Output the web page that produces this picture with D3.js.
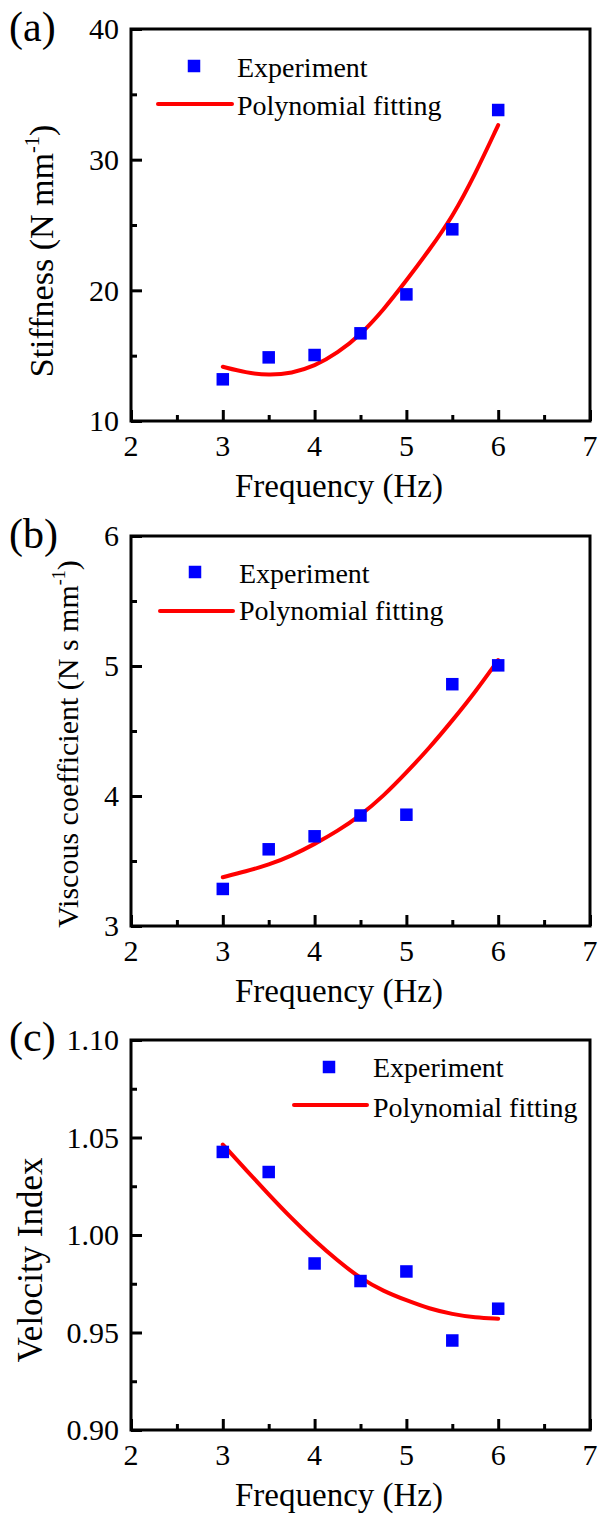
<!DOCTYPE html>
<html>
<head>
<meta charset="utf-8">
<script src="https://cdn.jsdelivr.net/npm/d3@7/dist/d3.min.js"></script>
<style>
  html, body { margin: 0; padding: 0; background: #fff; }
  svg { display: block; }
  text { font-family: "Liberation Serif", "Times New Roman", "DejaVu Serif", serif; fill: #000; }
</style>
</head>
<body>
<svg id="chart" width="598" height="1516"></svg>
<script>
// ---------------- data ----------------
const freq = [3, 3.5, 4, 4.5, 5, 5.5, 6];
const stiffness = [13.19, 14.87, 15.05, 16.71, 19.69, 24.67, 33.8];
const viscous = [3.285, 3.59, 3.69, 3.85, 3.856, 4.86, 5.005];
const velocityIndex = [1.0426, 1.0323, 0.9854, 0.9764, 0.9813, 0.9459, 0.9622];

const fitFreq = [3, 3.25, 3.5, 3.75, 4, 4.25, 4.5, 4.75, 5, 5.25, 5.5, 5.75, 6];
const stiffnessFit = [14.15, 13.7, 13.5, 13.65, 14.2, 15.2, 16.6, 18.5, 20.75, 23.1, 25.6, 28.9, 32.65];
const viscousFit = [3.375, 3.42, 3.47, 3.54, 3.63, 3.73, 3.85, 4.0, 4.18, 4.37, 4.58, 4.8, 5.046];
const velocityFit = [1.0464, 1.0335, 1.0208, 1.0085, 0.9972, 0.9868, 0.9777, 0.9712, 0.9665, 0.9622, 0.9594, 0.9576, 0.9571];

const xTicks = [2, 3, 4, 5, 6, 7];
const xMinorTicks = [2.5, 3.5, 4.5, 5.5, 6.5];
const stiffnessTicks = [10, 20, 30, 40];
const stiffnessMinor = [15, 25, 35];
const viscousTicks = [3, 4, 5, 6];
const viscousMinor = [3.5, 4.5, 5.5];
const velocityTicks = [0.90, 0.95, 1.00, 1.05, 1.10];
const velocityMinor = [0.925, 0.975, 1.025, 1.075];

const seriesNames = ["Experiment", "Polynomial fitting"];
const xTitle = "Frequency (Hz)";

// ---------------- layout ----------------
const svg = d3.select("#chart");
const left = 131, right = 590;

const panels = [
  { tag: "(a)", tagY: 41, top: 29, bottom: 421, domain: [10, 40], ticks: stiffnessTicks, minor: stiffnessMinor,
    fmt: d3.format("d"), pts: stiffness, fit: stiffnessFit,
    ylab: ["Stiffness (N mm", "-1", ")"], ylabX: 53, ylabY: 251, ylabSize: 34,
    leg: { sqX: 194, sqY: 66, lineX0: 158, lineX1: 232, lineY: 104, textX: 237, t1: 77, t2: 115 } },
  { tag: "(b)", tagY: 548, top: 536, bottom: 926, domain: [3, 6], ticks: viscousTicks, minor: viscousMinor,
    fmt: d3.format("d"), pts: viscous, fit: viscousFit,
    ylab: ["Viscous coefficient (N s mm", "-1", ")"], ylabX: 78, ylabY: 744, ylabSize: 30,
    leg: { sqX: 195, sqY: 572, lineX0: 160, lineX1: 233, lineY: 611, textX: 239, t1: 583, t2: 620 } },
  { tag: "(c)", tagY: 1051, top: 1040, bottom: 1430, domain: [0.9, 1.1], ticks: velocityTicks, minor: velocityMinor,
    fmt: d3.format(".2f"), pts: velocityIndex, fit: velocityFit,
    ylab: ["Velocity Index"], ylabX: 42, ylabY: 1260, ylabSize: 35,
    leg: { sqX: 329, sqY: 1067, lineX0: 294, lineX1: 367, lineY: 1105, textX: 373, t1: 1077, t2: 1117 } }
];

const x = d3.scaleLinear().domain([2, 7]).range([left, right]);

panels.forEach(p => {
  const y = d3.scaleLinear().domain(p.domain).range([p.bottom, p.top]);
  const g = svg.append("g");

  // ticks (inward) via d3 axes
  const yAxis = d3.axisLeft(y).tickValues(p.ticks).tickSize(-11).tickFormat("");
  const yMinorAxis = d3.axisLeft(y).tickValues(p.minor).tickSize(-6).tickFormat("");
  const xAxis = d3.axisBottom(x).tickValues(xTicks).tickSize(-11).tickFormat("");
  const xMinorAxis = d3.axisBottom(x).tickValues(xMinorTicks).tickSize(-6).tickFormat("");

  [[yAxis, `translate(${left},0)`], [yMinorAxis, `translate(${left},0)`],
   [xAxis, `translate(0,${p.bottom})`], [xMinorAxis, `translate(0,${p.bottom})`]].forEach(([ax, tr]) => {
    const a = g.append("g").attr("transform", tr).call(ax);
    a.select(".domain").remove();
    a.selectAll("line").attr("stroke", "#000").attr("stroke-width", 3);
  });

  // frame
  g.append("rect")
    .attr("x", left).attr("y", p.top)
    .attr("width", right - left).attr("height", p.bottom - p.top)
    .attr("fill", "none").attr("stroke", "#000").attr("stroke-width", 3);

  // y tick labels
  g.selectAll(".ytl").data(p.ticks).enter().append("text")
    .attr("x", 119).attr("y", d => y(d)).attr("dy", "0.34em")
    .attr("text-anchor", "end").attr("font-size", 30)
    .text(d => p.fmt(d));

  // x tick labels
  g.selectAll(".xtl").data(xTicks).enter().append("text")
    .attr("x", d => x(d)).attr("y", p.bottom + 35)
    .attr("text-anchor", "middle").attr("font-size", 30)
    .text(d => d);

  // x title
  g.append("text").attr("x", 339).attr("y", p.bottom + 76)
    .attr("text-anchor", "middle").attr("font-size", 33).text(xTitle);

  // y title
  const yt = g.append("text")
    .attr("transform", `translate(${p.ylabX},${p.ylabY}) rotate(-90)`)
    .attr("text-anchor", "middle").attr("font-size", p.ylabSize);
  yt.append("tspan").text(p.ylab[0]);
  if (p.ylab.length > 1) {
    yt.append("tspan").attr("font-size", p.ylabSize * 0.6).attr("dy", -p.ylabSize * 0.42).text(p.ylab[1]);
    yt.append("tspan").attr("dy", p.ylabSize * 0.42).text(p.ylab[2]);
  }

  // panel tag
  g.append("text").attr("x", 9).attr("y", p.tagY).attr("font-size", 42).text(p.tag);

  // fit line
  const line = d3.line().x((d, i) => x(fitFreq[i])).y(d => y(d)).curve(d3.curveBasis);
  g.append("path").datum(p.fit).attr("d", line)
    .attr("fill", "none").attr("stroke", "#ff0000").attr("stroke-width", 4).attr("stroke-linecap", "round");

  // points
  const s = 12.5;
  g.selectAll(".pt").data(p.pts).enter().append("rect")
    .attr("x", (d, i) => x(freq[i]) - s / 2).attr("y", d => y(d) - s / 2)
    .attr("width", s).attr("height", s).attr("fill", "#0000ff");

  // legend
  const L = p.leg;
  g.append("rect").attr("x", L.sqX - s / 2).attr("y", L.sqY - s / 2).attr("width", s).attr("height", s).attr("fill", "#0000ff");
  g.append("text").attr("x", L.textX).attr("y", L.t1).attr("font-size", 28).text(seriesNames[0]);
  g.append("line").attr("x1", L.lineX0).attr("x2", L.lineX1).attr("y1", L.lineY).attr("y2", L.lineY)
    .attr("stroke", "#ff0000").attr("stroke-width", 4).attr("stroke-linecap", "round");
  g.append("text").attr("x", L.textX).attr("y", L.t2).attr("font-size", 28).text(seriesNames[1]);
});
</script>
</body>
</html>
